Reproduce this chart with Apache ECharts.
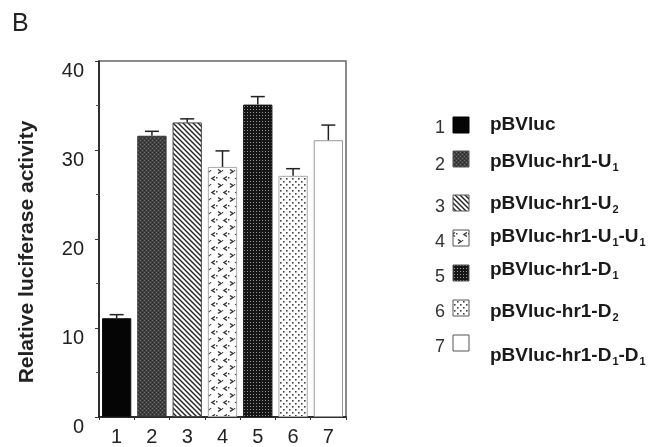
<!DOCTYPE html>
<html>
<head>
<meta charset="utf-8">
<script src="https://cdn.jsdelivr.net/npm/echarts@6/dist/echarts.min.js"></script>
<style>html,body{margin:0;padding:0;background:#fff;}#c{width:659px;height:447px;}</style>
</head>
<body>
<div id="c"></div>
<script>
// ---- data ----
var categories = ['1', '2', '3', '4', '5', '6', '7'];
var values = [11.1, 31.6, 33.1, 28.1, 35.1, 27.1, 31.1];
var errors = [0.4, 0.5, 0.4, 1.8, 0.9, 0.8, 1.7];
var yTicks = [0, 10, 20, 30, 40];
var legendNums = ['1', '2', '3', '4', '5', '6', '7'];
var legendLabels = [
  'pBVluc',
  'pBVluc-hr1-U{s|1}',
  'pBVluc-hr1-U{s|2}',
  'pBVluc-hr1-U{s|1}-U{s|1}',
  'pBVluc-hr1-D{s|1}',
  'pBVluc-hr1-D{s|2}',
  'pBVluc-hr1-D{s|1}-D{s|1}'
];
var axisTitle = 'Relative luciferase activity';
var panelLetter = 'B';

// ---- patterns (styles) ----
function tile(w, h, draw) {
  var c = document.createElement('canvas');
  c.width = w; c.height = h;
  var ctx = c.getContext('2d');
  draw(ctx, w, h);
  return { image: c, repeat: 'repeat' };
}
var patterns = [
  '#050505',
  tile(4, 4, function (g) {
    g.fillStyle = '#404040'; g.fillRect(0, 0, 4, 4);
    g.fillStyle = '#6e6e6e'; g.fillRect(0, 0, 1, 1); g.fillRect(2, 2, 1, 1);
    g.fillStyle = '#2a2a2a'; g.fillRect(2, 0, 1, 1); g.fillRect(0, 2, 1, 1);
  }),
  tile(5, 5, function (g) {
    g.fillStyle = '#fff'; g.fillRect(0, 0, 5, 5);
    g.strokeStyle = '#222'; g.lineWidth = 1.4;
    for (var k = -2; k <= 2; k++) {
      g.beginPath(); g.moveTo(k * 5 - 1, -1); g.lineTo(k * 5 + 6, 6); g.stroke();
    }
  }),
  tile(12, 14, function (g) {
    g.fillStyle = '#fff'; g.fillRect(0, 0, 12, 14);
    g.strokeStyle = '#333'; g.lineWidth = 1.5;
    g.beginPath(); g.moveTo(2, 1.5); g.lineTo(5, 3.5); g.lineTo(2, 5.5); g.stroke();
    g.beginPath(); g.moveTo(11, 8.5); g.lineTo(8, 10.5); g.lineTo(11, 12.5); g.stroke();
    g.fillStyle = '#444'; g.fillRect(0, 9, 1.5, 1.5); g.fillRect(6, 2, 1.2, 1.2);
  }),
  tile(3, 3, function (g) {
    g.fillStyle = '#151515'; g.fillRect(0, 0, 3, 3);
    g.fillStyle = '#999'; g.fillRect(1, 1, 1, 1);
  }),
  tile(6, 6, function (g) {
    g.fillStyle = '#fff'; g.fillRect(0, 0, 6, 6);
    g.fillStyle = '#444';
    g.fillRect(1, 1, 1.6, 1.6); g.fillRect(4, 4, 1.6, 1.6);
  }),
  '#ffffff'
];
var borders = ['#111', '#333', '#444', '#aaa', '#111', '#aaa', '#999'];

// ---- chart ----
var chart = echarts.init(document.getElementById('c'), null, { renderer: 'canvas' });

var barData = values.map(function (v, i) {
  return { value: v, itemStyle: { color: patterns[i], borderColor: borders[i], borderWidth: 1 } };
});
var errData = values.map(function (v, i) { return [i, v, errors[i]]; });

var graphics = [
  { type: 'text', left: 12, top: 12, style: { text: panelLetter, fontSize: 25, fill: '#222', fontFamily: 'Liberation Sans, Arial, sans-serif' } },
  { type: 'text', x: 27, y: 252, rotation: Math.PI / 2,
    style: { text: axisTitle, fontSize: 21, fontWeight: 'bold', fill: '#222', align: 'center', verticalAlign: 'middle', fontFamily: 'Liberation Sans, Arial, sans-serif' } }
];
var numY = [128, 165, 207, 242, 277, 312, 347];
var swY = [125, 159, 203, 238, 273, 308, 343];
var labY = [125, 162, 204, 237, 270, 312, 356];
legendNums.forEach(function (n, i) {
  graphics.push({ type: 'text', x: 440, y: numY[i],
    style: { text: n, fontSize: 18, fill: '#333', align: 'center', verticalAlign: 'middle', fontFamily: 'Liberation Sans, Arial, sans-serif' } });
  graphics.push({ type: 'rect', shape: { x: 453, y: swY[i] - 8, width: 16, height: 16 },
    style: { fill: patterns[i], stroke: i === 0 ? '#000' : '#555', lineWidth: 1 } });
  graphics.push({ type: 'text', x: 490, y: labY[i],
    style: { text: legendLabels[i], fontSize: 19, fontWeight: 'bold', fill: '#1a1a1a', align: 'left', verticalAlign: 'middle',
      lineHeight: 22, fontFamily: 'Liberation Sans, Arial, sans-serif',
      rich: { s: { fontSize: 11, fontWeight: 'bold', fill: '#1a1a1a', lineHeight: 11, verticalAlign: 'bottom', padding: [0, 0, 0, 1], fontFamily: 'Liberation Sans, Arial, sans-serif' } } } });
});

chart.setOption({
  animation: false,
  backgroundColor: '#fff',
  textStyle: { fontFamily: 'Liberation Sans, Arial, sans-serif' },
  grid: { left: 99, right: 313, top: 61, bottom: 23, show: true, borderColor: '#666', borderWidth: 1.5, backgroundColor: 'transparent' },
  xAxis: {
    type: 'category', data: categories,
    axisLine: { lineStyle: { color: '#111', width: 1.5 } },
    axisTick: { show: true, length: 3, lineStyle: { color: '#333' } },
    axisLabel: { fontSize: 20, color: '#222', margin: 10 }
  },
  yAxis: {
    type: 'value', min: yTicks[0], max: yTicks[yTicks.length - 1], interval: 10,
    axisLine: { show: true, lineStyle: { color: '#111', width: 1.5 } },
    axisTick: { show: true, length: 4, lineStyle: { color: '#333' } },
    minorTick: { show: true, splitNumber: 2, length: 3, lineStyle: { color: '#555' } },
    splitLine: { show: false },
    axisLabel: { fontSize: 20, color: '#222', margin: 15, verticalAlign: 'top' }
  },
  series: [
    { type: 'bar', data: barData, barCategoryGap: '17%' },
    { type: 'custom', data: errData, z: 3,
      renderItem: function (params, api) {
        var base = api.coord([api.value(0), api.value(1)]);
        var top = api.coord([api.value(0), api.value(1) + api.value(2)]);
        var hw = 7;
        return { type: 'group', children: [
          { type: 'line', shape: { x1: base[0], y1: base[1], x2: top[0], y2: top[1] }, style: { stroke: '#222', lineWidth: 1.5 } },
          { type: 'line', shape: { x1: top[0] - hw, y1: top[1], x2: top[0] + hw, y2: top[1] }, style: { stroke: '#222', lineWidth: 1.5 } }
        ] };
      }
    }
  ],
  graphic: graphics
});
</script>
</body>
</html>
